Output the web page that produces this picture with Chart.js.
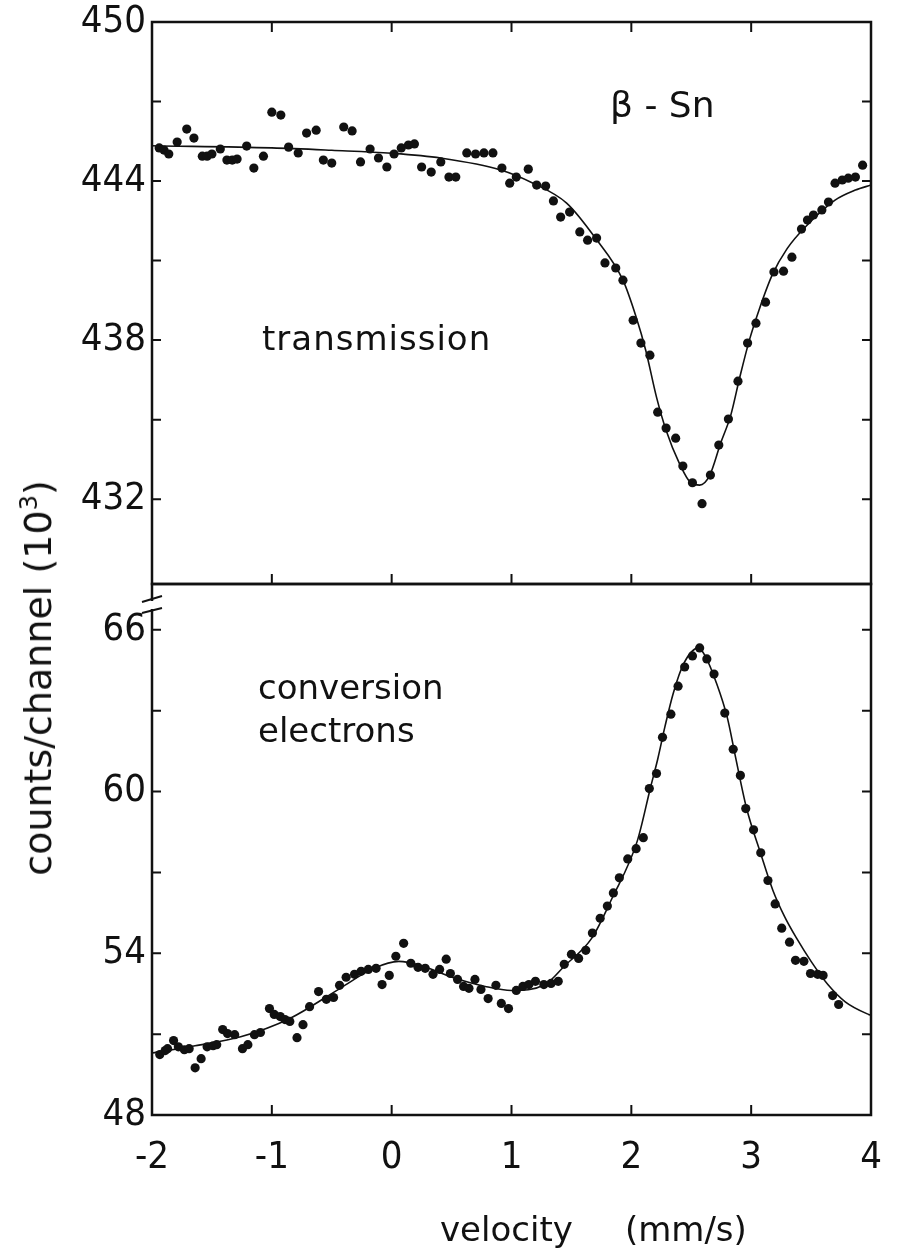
<!DOCTYPE html>
<html>
<head>
<meta charset="utf-8">
<script src="https://cdn.jsdelivr.net/npm/chart.js@4.4.1/dist/chart.umd.min.js"></script>
<style>
  body { margin: 0; background: #fff; }
  #wrap { position: relative; width: 897px; height: 1256px; background: #fff; font-family: "DejaVu Sans", sans-serif; color: #111; overflow: hidden; }
  #top { position: absolute; left: 0; top: 0; }
  #bottom { position: absolute; left: 0; top: 570px; }
  .lbl { position: absolute; white-space: pre; line-height: 1; }
</style>
</head>
<body>
<div id="wrap">
  <canvas id="top" width="897" height="600"></canvas>
  <canvas id="bottom" width="897" height="686"></canvas>
  <div class="lbl" style="left:610px; top:87px; font-size:36px;">β - Sn</div>
  <div class="lbl" style="left:262px; top:321px; font-size:34px; letter-spacing:1px;">transmission</div>
  <div class="lbl" style="left:258px; top:670px; font-size:34px;">conversion</div>
  <div class="lbl" style="left:258px; top:713px; font-size:34px;">electrons</div>
  <div class="lbl" style="left:440px; top:1212px; font-size:34px;">velocity<span style="margin-left:52px">(mm/s)</span></div>
  <div class="lbl" style="left:37px; top:678px; font-size:38px; transform: translate(-50%, -50%) rotate(-90deg);">counts/channel (10<sup style="font-size:24px; vertical-align: 14px;">3</sup>)</div>
</div>
<script>
// velocity axis (mm/s)
const xTicks = [-2, -1, 0, 1, 2, 3, 4];

// upper panel: transmission, counts/channel (10^3)
const topTicks = [450, 447, 444, 441, 438, 435, 432];
const topLabels = [450, 444, 438, 432];

const transX = [-1.94, -1.90, -1.86, -1.79, -1.71, -1.65, -1.58, -1.54, -1.50, -1.43,
  -1.375, -1.33, -1.29, -1.21, -1.15, -1.07, -1.00, -0.925, -0.86, -0.78,
  -0.71, -0.63, -0.57, -0.50, -0.40, -0.33, -0.26, -0.18, -0.11, -0.04,
  0.02, 0.08, 0.14, 0.19, 0.25, 0.33, 0.41, 0.478, 0.535, 0.627,
  0.70, 0.77, 0.845, 0.92, 0.985, 1.04, 1.14, 1.21, 1.285, 1.35,
  1.41, 1.485, 1.57, 1.635, 1.71, 1.78, 1.87, 1.93, 2.015, 2.08,
  2.155, 2.22, 2.29, 2.37, 2.43, 2.51, 2.59, 2.66, 2.73, 2.81,
  2.89, 2.97, 3.04, 3.12, 3.19, 3.27, 3.34, 3.42, 3.47, 3.52,
  3.59, 3.645, 3.70, 3.76, 3.81, 3.87, 3.93];
const transY = [445.25, 445.17, 445.02, 445.47, 445.96, 445.62, 444.94, 444.94, 445.02, 445.21,
  444.79, 444.79, 444.83, 445.32, 444.49, 444.94, 446.60, 446.49, 445.28, 445.06,
  445.81, 445.92, 444.79, 444.68, 446.04, 445.89, 444.72, 445.21, 444.87, 444.53,
  445.02, 445.25, 445.36, 445.40, 444.53, 444.34, 444.72, 444.15, 444.15, 445.06,
  445.02, 445.06, 445.06, 444.49, 443.92, 444.15, 444.45, 443.85, 443.81, 443.25,
  442.64, 442.83, 442.08, 441.77, 441.85, 440.91, 440.72, 440.26, 438.75, 437.89,
  437.43, 435.28, 434.68, 434.30, 433.25, 432.62, 431.83, 432.91, 434.04, 435.02,
  436.45, 437.89, 438.64, 439.43, 440.57, 440.60, 441.13, 442.19, 442.53, 442.72,
  442.91, 443.21, 443.92, 444.04, 444.11, 444.15, 444.60];

// fitted curve
const fitTopX = [-2.0, -1.0, -0.5, 0.0, 0.41, 0.91, 1.18, 1.46, 1.70, 1.93, 2.04, 2.12,
  2.21, 2.29, 2.40, 2.50, 2.57, 2.655, 2.745, 2.83, 2.905, 2.985, 3.065, 3.175, 3.30,
  3.47, 3.70, 3.87, 4.0];
const fitTopY = [445.33, 445.25, 445.16, 445.05, 444.87, 444.42, 443.92, 443.17, 441.85, 440.26, 438.87, 437.62,
  435.85, 434.60, 433.36, 432.60, 432.53, 432.91, 434.11, 435.17, 436.60, 438.0, 439.13, 440.45, 441.45,
  442.35, 443.28, 443.66, 443.85];

// lower panel: conversion electrons, counts/channel (10^3)
const botTicks = [66, 63, 60, 57, 54, 51, 48];
const botLabels = [66, 60, 54, 48];

const convX = [-1.935, -1.89, -1.87, -1.82, -1.78, -1.73, -1.69, -1.64, -1.59, -1.54,
  -1.49, -1.46, -1.41, -1.37, -1.31, -1.245, -1.20, -1.145, -1.095, -1.02,
  -0.98, -0.93, -0.89, -0.85, -0.79, -0.74, -0.685, -0.61, -0.545, -0.485,
  -0.435, -0.38, -0.31, -0.255, -0.195, -0.13, -0.08, -0.02, 0.035, 0.10,
  0.16, 0.22, 0.28, 0.345, 0.40, 0.455, 0.49, 0.55, 0.60, 0.645,
  0.695, 0.745, 0.805, 0.87, 0.915, 0.975, 1.04, 1.095, 1.145, 1.20,
  1.27, 1.33, 1.39, 1.44, 1.50, 1.56, 1.62, 1.675, 1.74, 1.80,
  1.85, 1.90, 1.97, 2.04, 2.10, 2.15, 2.21, 2.26, 2.33, 2.39,
  2.445, 2.51, 2.57, 2.63, 2.69, 2.78, 2.85, 2.91, 2.955, 3.02,
  3.08, 3.14, 3.20, 3.255, 3.32, 3.37, 3.44, 3.495, 3.555, 3.60,
  3.68, 3.73];
const convY = [50.24, 50.39, 50.46, 50.76, 50.53, 50.42, 50.46, 49.75, 50.09, 50.53,
  50.57, 50.61, 51.17, 51.02, 50.98, 50.46, 50.61, 50.98, 51.06, 51.95,
  51.73, 51.65, 51.54, 51.47, 50.87, 51.35, 52.02, 52.58, 52.29, 52.36,
  52.81, 53.11, 53.22, 53.33, 53.40, 53.44, 52.84, 53.18, 53.89, 54.37,
  53.63, 53.48, 53.44, 53.22, 53.40, 53.78, 53.25, 53.03, 52.77, 52.70,
  53.03, 52.66, 52.32, 52.81, 52.14, 51.95, 52.62, 52.77, 52.84, 52.96,
  52.84, 52.88, 52.96, 53.59, 53.96, 53.81, 54.11, 54.75, 55.30, 55.75,
  56.24, 56.80, 57.50, 57.88, 58.29, 60.11, 60.67, 62.01, 62.87, 63.91,
  64.62, 65.03, 65.33, 64.92, 64.36, 62.91, 61.57, 60.60, 59.37, 58.58,
  57.73, 56.70, 55.83, 54.93, 54.41, 53.74, 53.70, 53.25, 53.22, 53.18,
  52.43, 52.10];

const fitBotX = [-2.0, -1.64, -1.26, -0.85, -0.43, -0.15, 0.06, 0.26, 0.51, 0.78,
  1.0, 1.28, 1.44, 1.67, 1.84, 2.05, 2.16, 2.22, 2.28, 2.35,
  2.44, 2.56, 2.62, 2.71, 2.80, 2.87, 2.96, 3.08, 3.18, 3.28, 3.38,
  3.50, 3.64, 3.785, 3.98, 4.0];
const fitBotY = [50.3, 50.57, 50.9, 51.58, 52.70, 53.44, 53.70, 53.52, 53.1, 52.77,
  52.62, 52.84, 53.52, 54.56, 56.05, 58.17, 60.15, 61.2, 62.4, 63.65,
  64.77, 65.33, 65.0, 64.03, 62.76, 61.27, 59.41, 57.69, 56.35, 55.35, 54.55,
  53.70, 52.84, 52.2, 51.73, 51.7];

const ink = '#111';
const tickFont = { family: '"DejaVu Sans Condensed", "DejaVu Sans", sans-serif', size: 38 };

const pts = (xs, ys) => xs.map((x, i) => ({ x: x, y: ys[i] }));

// frame + inward ticks, like the printed figure
const inkFrame = {
  id: 'inkFrame',
  afterDatasetsDraw(chart, args, opts) {
    const ctx = chart.ctx;
    const a = chart.chartArea;
    const x = chart.scales.x, y = chart.scales.y;
    ctx.save();
    ctx.strokeStyle = ink;
    ctx.lineWidth = 2.5;
    ctx.strokeRect(a.left, a.top, a.right - a.left, a.bottom - a.top);
    ctx.lineWidth = 2;
    ctx.beginPath();
    y.ticks.forEach((t) => {
      const py = y.getPixelForValue(t.value);
      ctx.moveTo(a.left, py); ctx.lineTo(a.left + 9, py);
      ctx.moveTo(a.right, py); ctx.lineTo(a.right - 9, py);
    });
    x.ticks.forEach((t) => {
      const px = x.getPixelForValue(t.value);
      ctx.moveTo(px, a.bottom); ctx.lineTo(px, a.bottom - 10);
      if (opts.topTicks) { ctx.moveTo(px, a.top); ctx.lineTo(px, a.top + 10); }
    });
    ctx.stroke();
    if (opts.axisBreak) {
      // broken axis mark between the two panels
      ctx.fillStyle = '#fff';
      ctx.fillRect(a.left - 3, a.top + 17, 6, 8);
      ctx.beginPath();
      ctx.moveTo(a.left - 10, a.top + 18); ctx.lineTo(a.left + 10, a.top + 12);
      ctx.moveTo(a.left - 10, a.top + 29); ctx.lineTo(a.left + 10, a.top + 24);
      ctx.stroke();
    }
    ctx.restore();
  }
};

function makeChart(id, pointsData, fitData, yMin, yMax, yTicks, yLabels, showX, frameOpts, padding) {
  return new Chart(document.getElementById(id), {
    type: 'scatter',
    data: {
      datasets: [
        {
          data: pointsData,
          pointRadius: 4.6,
          pointBackgroundColor: ink,
          pointBorderWidth: 0,
          showLine: false
        },
        {
          type: 'line',
          data: fitData,
          borderColor: ink,
          borderWidth: 1.6,
          pointRadius: 0,
          cubicInterpolationMode: 'monotone',
          fill: false
        }
      ]
    },
    options: {
      responsive: false,
      animation: false,
      events: [],
      layout: { padding: padding },
      plugins: { legend: { display: false }, tooltip: { enabled: false }, inkFrame: frameOpts },
      scales: {
        x: {
          type: 'linear',
          min: -2,
          max: 4,
          display: showX,
          afterBuildTicks: (axis) => { axis.ticks = xTicks.map((v) => ({ value: v })); },
          afterFit: (scale) => {
            if (showX) scale.height = 141;
            scale.paddingLeft = 0;
            scale.paddingRight = 0;
          },
          grid: { display: false, drawTicks: false },
          border: { display: false },
          ticks: { color: ink, font: tickFont, padding: 20, maxRotation: 0, callback: (v) => String(v) }
        },
        y: {
          type: 'linear',
          min: yMin,
          max: yMax,
          afterBuildTicks: (axis) => { axis.ticks = yTicks.map((v) => ({ value: v })); },
          afterFit: (scale) => {
            scale.width = 152;
            scale.paddingTop = 0;
            scale.paddingBottom = 0;
          },
          grid: { display: false, drawTicks: false },
          border: { display: false },
          ticks: {
            color: ink, font: tickFont, padding: 6,
            callback: (v) => (yLabels.includes(v) ? String(v) : '')
          }
        }
      }
    },
    plugins: [inkFrame]
  });
}

makeChart('top', pts(transX, transY), pts(fitTopX, fitTopY), 428.8, 450, topTicks, topLabels, false,
  { topTicks: true }, { left: 0, right: 26, top: 22, bottom: 16 });
makeChart('bottom', pts(convX, convY), pts(fitBotX, fitBotY), 48, 67.7, botTicks, botLabels, true,
  { topTicks: false, axisBreak: true }, { left: 0, right: 26, top: 14, bottom: 0 });
</script>
</body>
</html>
